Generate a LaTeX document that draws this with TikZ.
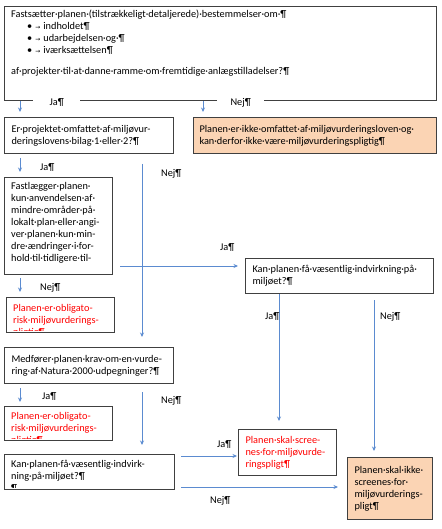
\documentclass[tikz,border=0pt]{standalone}
\usepackage{fontspec}
\setmainfont{Carlito}
\newfontfamily\symfont{DejaVu Sans}
\usetikzlibrary{arrows.meta}
\definecolor{boxgray}{HTML}{404040}
\definecolor{linkblue}{HTML}{5B8BD0}
\definecolor{peach}{HTML}{FBD4B4}
\definecolor{alert}{HTML}{FF0000}
\newcommand{\tabarr}{{\symfont\fontsize{6}{6}\selectfont →}}
\newcommand{\bul}[1]{\hspace*{16pt}•\hspace{3pt}\tabarr\hspace{3pt}#1}
\tikzset{
  txt/.style={font=\fontsize{10.3}{12}\selectfont, align=left, inner sep=0pt},
  box/.style={draw=boxgray, line width=1pt, anchor=north west, txt, inner xsep=7pt},
  frame/.style={draw=boxgray, line width=1pt, anchor=north west, inner sep=0pt},
  intxt/.style={txt, anchor=north west, xshift=7pt, yshift=-4pt},
  flow/.style={draw=linkblue, line width=0.8pt, -{Stealth[length=4.5pt, width=4pt]}},
  lbl/.style={txt, anchor=west},
  gaplbl/.style={txt, anchor=north west, fill=white, minimum width=47pt,
                 minimum height=9pt, inner xsep=7pt}
}
\begin{document}
\begin{tikzpicture}[x=1pt, y=-1pt]
  \useasboundingbox (0,0) rectangle (441,529);
  % boxes
  \node[frame, minimum width=432pt, minimum height=94pt] (top) at (4,6) {};
  \node[intxt] (ttop) at (top.north west)
    {Fastsætter·planen·(tilstrækkeligt·detaljerede)·bestemmelser·om·¶\\
     \bul{indholdet¶}\\ \bul{udarbejdelsen·og·¶}\\ \bul{iværksættelsen¶}\\[9pt]
     af·projekter·til·at·danne·ramme·om·fremtidige·anlægstilladelser?¶};
  \node[box, text width=155pt, minimum height=36pt] (bilag) at (4,117)
    {Er·projektet·omfattet·af·miljøvur-\\deringslovens·bilag·1·eller·2?¶};
  \node[box, fill=peach, inner xsep=6pt, text width=231pt, minimum height=36pt] (ikke) at (193,117)
    {Planen·er·ikke·omfattet·af·miljøvurderingsloven·og·\\kan·derfor·ikke·være·miljøvurderingspligtig¶};
  \node[frame, minimum width=108pt, minimum height=97pt] (lokal) at (4,177) {};
  \node[intxt, yshift=-1pt] (tlokal) at (lokal.north west)
    {Fastlægger·planen·\\kun·anvendelsen·af·\\mindre·områder·på·\\lokalt·plan·eller·angi-\\ver·planen·kun·min-\\dre·ændringer·i·for-\\hold·til·tidligere·til-};
  \node[box, text width=174pt, minimum height=35pt] (vaes) at (245,258)
    {Kan·planen·få·væsentlig·indvirkning·på·\\miljøet?¶};
  \node[frame, minimum width=108pt, minimum height=35pt] (obl) at (6,297) {};
  \begin{scope}
    \clip (obl.north west) rectangle ([yshift=3pt]obl.south east);
    \node[intxt, text=alert, yshift=-3pt] (tobl) at (obl.north west)
      {Planen·er·obligato-\\risk·miljøvurderings-\\pligtig¶};
  \end{scope}
  \node[box, text width=155pt, minimum height=36pt] (natura) at (4,347)
    {Medfører·planen·krav·om·en·vurde-\\ring·af·Natura·2000·udpegninger?¶};
  \node[frame, minimum width=108pt, minimum height=34pt] (obltwo) at (4,406) {};
  \begin{scope}
    \clip (obltwo.north west) rectangle ([yshift=3pt]obltwo.south east);
    \node[intxt, text=alert, yshift=-2pt] (tobltwo) at (obltwo.north west)
      {Planen·er·obligato-\\risk·miljøvurderings-\\pligtig¶};
  \end{scope}
  \node[frame, minimum width=170pt, minimum height=35pt] (vaestwo) at (4,454) {};
  \begin{scope}
    \clip (vaestwo.north west) rectangle ([yshift=3pt]vaestwo.south east);
    \node[intxt, yshift=-2pt] (tvaestwo) at (vaestwo.north west)
      {Kan·planen·få·væsentlig·indvirk-\\ning·på·miljøet?¶\\¶};
  \end{scope}
  \node[box, text width=84pt, minimum height=46pt, text=alert] (screen) at (238,429)
    {Planen·skal·scree-\\nes·for·miljøvurde-\\ringspligt¶};
  \node[box, fill=peach, text width=71pt, minimum height=62pt] (noscreen) at (347,457)
    {Planen·skal·ikke·\\screenes·for·\\miljøvurderings-\\pligt¶};
  \coordinate (hstart) at (120,266);
  % connectors
  \draw[flow] (top.south -| 20,0) -- ([yshift=5pt]bilag.north -| 20,0);
  \draw[flow] (top.south -| 203,0) -- ([yshift=5pt]ikke.north -| 203,0);
  \draw[flow] ([yshift=-4pt]bilag.south -| 20,0) -- ([yshift=5pt]lokal.north -| 20,0);
  \draw[flow] ([yshift=-10pt]bilag.south -| 142,0) -- ([yshift=10pt]natura.north -| 142,0);
  \draw[flow] (hstart) -- ([xshift=-7pt]vaes.west |- hstart);
  \draw[flow] ([yshift=-3pt]lokal.south -| 20,0) -- ([yshift=5pt]obl.north -| 20,0);
  \draw[flow] ([yshift=-4pt]natura.south -| 20,0) -- ([yshift=4pt]obltwo.north -| 20,0);
  \draw[flow] ([yshift=-8pt]natura.south -| 142,0) -- ([yshift=9pt]vaestwo.north -| 142,0);
  \draw[flow] (vaes.south -| 279,0) -- ([yshift=8pt]screen.north -| 279,0);
  \draw[flow] ([yshift=-6pt]vaes.south -| 374,0) -- ([yshift=6pt]noscreen.north -| 374,0);
  \draw[flow] ([xshift=6pt]vaestwo.east |- 0,456) -- ([xshift=-1pt]screen.west |- 0,456);
  \draw[flow] ([xshift=6pt]vaestwo.east |- 0,487) -- ([xshift=-9pt]noscreen.west |- 0,487);
  % labels
  \node[gaplbl] (ja1) at (33,98) {Ja¶};
  \node[gaplbl] (nej1) at (217,98) {Nej¶};
  \node[lbl] (ja2) at (40,168) {Ja¶};
  \node[lbl] (nej2) at (161,174) {Nej¶};
  \node[lbl] (ja3) at (220,248) {Ja¶};
  \node[lbl] (nej3) at (40,288) {Nej¶};
  \node[lbl] (ja4) at (265,317) {Ja¶};
  \node[lbl] (nej4) at (380,317) {Nej¶};
  \node[lbl] (ja5) at (42,397) {Ja¶};
  \node[lbl] (nej5) at (161,401) {Nej¶};
  \node[lbl] (ja6) at (217,445) {Ja¶};
  \node[lbl] (nej6) at (210,501) {Nej¶};
\end{tikzpicture}
\end{document}
